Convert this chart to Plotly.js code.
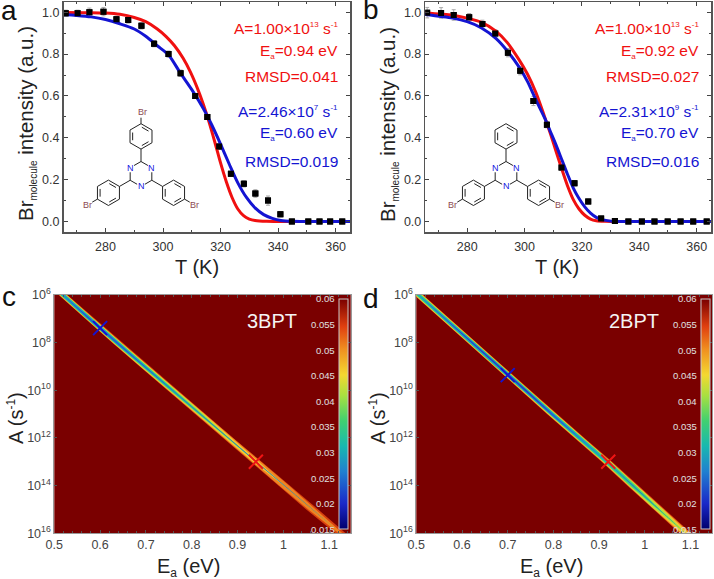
<!DOCTYPE html>
<html><head><meta charset="utf-8">
<script src="https://cdn.plot.ly/plotly-3.0.1.min.js"></script>
<style>html,body{margin:0;padding:0;background:#fff}</style>
</head><body><div id="chart" style="width:714px;height:579px"></div>
<script>
// ---------- panel a data ----------
const aT = [266.2,270.3,274.4,279.3,283.8,287.9,292.5,296.9,301.9,306.1,311.2,315.4,319.5,323.6,328.1,332.1,336.5,340.8,344.8,350.5,354.4,358.1,362.3];
const aI = [0.995,0.995,1.0,1.003,0.966,0.963,0.935,0.85,0.80,0.709,0.60,0.50,0.358,0.228,0.18,0.134,0.10,0.035,0,0,0,0,0];
const aErr = [0.015,0.015,0.02,0.02,0.015,0.015,0.015,0.015,0.015,0.015,0.012,0.012,0.012,0.01,0.015,0.018,0.022,0.012,0.003,0.003,0.003,0.003,0.003];
const aRedT = [265,275,280,285,290,294,298,301,304,307,309.5,312,314,316,318,320,322,324,326,328,330,332,336,345,365];
const aRedI = [0.999,0.998,0.996,0.99,0.975,0.955,0.92,0.885,0.84,0.78,0.715,0.635,0.56,0.475,0.38,0.28,0.19,0.115,0.06,0.028,0.012,0.005,0.001,0,0];
const aBlueT = [265,270,275,280,285,290,294,298,302,306,310,314,317,320,323,326,329,332,335,338,341,345,350,365];
const aBlueI = [0.99,0.985,0.978,0.965,0.945,0.92,0.885,0.84,0.795,0.71,0.63,0.54,0.46,0.37,0.275,0.185,0.115,0.065,0.033,0.015,0.005,0.001,0,0];
// ---------- panel b data ----------
const bT = [266.05,270.9,275.3,280.7,285.3,289.8,294.2,298.5,303.1,307.8,312.9,317.4,322.2,326.7,331.5,336.2,340.9,345.3,349.9,354.4,358.8,363.5];
const bI = [0.998,0.997,0.987,0.976,0.944,0.898,0.807,0.721,0.576,0.463,0.258,0.183,0.096,0.014,0.002,0,0,0,0,0,0,0];
const bErr = [0.025,0.025,0.025,0.018,0.018,0.018,0.02,0.02,0.022,0.015,0.012,0.012,0.01,0.01,0.004,0.003,0.003,0.003,0.003,0.003,0.003,0.003];
const bRedT = [265,275,280,285,290,294,298,301,304,307,309,311,313,315,317,319,321,323,325,328,332,365];
const bRedI = [0.997,0.986,0.972,0.952,0.91,0.855,0.775,0.705,0.615,0.50,0.42,0.335,0.25,0.17,0.105,0.06,0.03,0.012,0.004,0.001,0,0];
const bBlueT = [265,275,280,285,290,294,298,301,304,307,309,311,313,315,317,319,321,323,325,327,330,335,365];
const bBlueI = [0.99,0.972,0.955,0.925,0.875,0.815,0.74,0.67,0.58,0.495,0.43,0.365,0.295,0.225,0.16,0.11,0.07,0.04,0.02,0.009,0.002,0,0];
// ---------- RMSD valley, panels c and d ----------
const logAKnots = [6,7,8,9,10,11,12,13,14,15,16];
const cEa = [0.519,0.577,0.637,0.697,0.758,0.819,0.879,0.94,1.002,1.063,1.125];
const dEa = [0.505,0.563,0.622,0.680,0.739,0.797,0.857,0.917,0.974,1.031,1.089];
const levels = ['0.058','0.052','0.047','0.043','0.038','0.033','0.028','0.023','0.019'];
const levelColors = ['#d8400f','#ef8422','#f6c832','#b6e03e','#4ed272','#1fc0a4','#2098c8','#2064d0','#2440bc'];
const cHalfWidth = [
 [0.0095,0.01,0.0105,0.0105,0.011,0.011,0.0115,0.0125,0.013,0.013,0.011],
 [0.0085,0.009,0.0095,0.0095,0.01,0.01,0.0105,0.011,0.0105,0.0085,0.004],
 [0.0075,0.008,0.0085,0.0085,0.0088,0.0088,0.0085,0.0065,0.0005,0,0],
 [0.0068,0.0074,0.0076,0.0074,0.0074,0.007,0.004,0,0,0,0],
 [0.0057,0.0064,0.0064,0.0062,0.0058,0.004,0,0,0,0,0],
 [0.0047,0.0053,0.0053,0.0047,0.0033,0,0,0,0,0,0],
 [0.0036,0.0043,0.0041,0.0028,0,0,0,0,0,0,0],
 [0,0.0028,0.0028,0.0003,0,0,0,0,0,0,0],
 [0,0,0,0,0,0,0,0,0,0,0]];
const dHalfWidth = [
 [0.01,0.01,0.0105,0.0105,0.0105,0.0105,0.011,0.0115,0.012,0.0125,0.0125],
 [0.009,0.009,0.0093,0.0093,0.0093,0.0093,0.0097,0.01,0.0105,0.011,0.011],
 [0.008,0.008,0.0083,0.0083,0.0083,0.0083,0.0085,0.009,0.0093,0.0095,0.0075],
 [0.0072,0.0074,0.0076,0.0076,0.0076,0.0076,0.0076,0.008,0.008,0.008,0.001],
 [0.0059,0.0065,0.0067,0.0069,0.0069,0.0067,0.0065,0.0067,0.0067,0.002,0],
 [0.0043,0.0052,0.0057,0.0059,0.0059,0.0057,0.0052,0.0052,0.0025,0,0],
 [0.001,0.0038,0.0046,0.005,0.005,0.0046,0.0033,0.0015,0,0,0],
 [0,0.0002,0.003,0.004,0.004,0.003,0.0003,0,0,0,0],
 [0,0,0,0.0024,0.0024,0,0,0,0,0,0]];
const cBest = {ea:[0.60,0.94], a:[2.46e7,1e13]};
const dBest = {ea:[0.70,0.92], a:[2.31e9,1e13]};
const rmsdTicks = [0.015,0.02,0.025,0.03,0.035,0.04,0.045,0.05,0.055,0.06];
const rmsdTickText = ['0.015','0.02','0.025','0.03','0.035','0.04','0.045','0.05','0.055','0.06'];
const aTickVals = [1e6,1e8,1e10,1e12,1e14,1e16];
const aTickText = ['10<sup>6</sup>','10<sup>8</sup>','10<sup>10</sup>','10<sup>12</sup>','10<sup>14</sup>','10<sup>16</sup>'];

const W=714,H=579, FONT='"Liberation Sans", Arial, sans-serif';
const px=x=>x/W, py=y=>1-y/H;
const RED='#f01010', BLUE='#1414d2', TICK='#333';
const sm=(t,s)=>`<span style="font-size:${s}px">${t}</span>`;

const traces=[], annotations=[], shapes=[];
function ann(x,y,text,size,color,anchor,extra){
  annotations.push(Object.assign({xref:'paper',yref:'paper',x:px(x),y:py(y),text,showarrow:false,
    xanchor:anchor||'center',yanchor:'middle',borderpad:0,font:{family:FONT,size,color}},extra||{}));
}
function linePanel(ax,T,I,E,rT,rI,bT_,bI_){
  const base={xaxis:'x'+ax,yaxis:'y'+ax,hoverinfo:'skip',showlegend:false};
  traces.push(Object.assign({type:'scatter',mode:'markers',x:T,y:I,
    error_y:{type:'data',array:E,color:'#a8a8a8',thickness:1,width:2},
    marker:{symbol:'square',size:6,color:'#000'}},base));
  traces.push(Object.assign({type:'scatter',mode:'lines',x:rT,y:rI,line:{color:RED,width:3,shape:'spline',smoothing:0.8}},base));
  traces.push(Object.assign({type:'scatter',mode:'lines',x:bT_,y:bI_,line:{color:BLUE,width:3,shape:'spline',smoothing:0.8}},base));
  traces.push(Object.assign({type:'scatter',mode:'markers',x:T,y:I,marker:{symbol:'square',size:6,color:'#000'}},base));
}
linePanel('',aT,aI,aErr,aRedT,aRedI,aBlueT,aBlueI);
linePanel('2',bT,bI,bErr,bRedT,bRedI,bBlueT,bBlueI);

const jet=[[0,'#00006e'],[0.11,'#1a28c8'],[0.25,'#2080d0'],[0.36,'#18b8b0'],[0.47,'#40d070'],[0.58,'#a8e040'],[0.67,'#f4d830'],[0.78,'#f09020'],[0.88,'#e04010'],[1,'#7a0000']];
function mapPanel(ax,ea,hw,best,barX,barW){
  const xa='x'+ax,ya='y'+ax;
  traces.push({type:'heatmap',xaxis:xa,yaxis:ya,x:[0.4,1.3],y:[1e5,1e17],z:[[0.06,0.06],[0.06,0.06]],
    zmin:0.015,zmax:0.06,colorscale:jet,hoverinfo:'skip',
    colorbar:{x:px(barX),xanchor:'left',xpad:0,ypad:0,y:py(529.3),yanchor:'bottom',lenmode:'pixels',len:230.3,
      thicknessmode:'pixels',thickness:barW,outlinecolor:'#c8c8c8',outlinewidth:1,borderwidth:0,
      showticklabels:false,ticks:'',tickvals:rmsdTicks}});
  levels.forEach((lv,i)=>{
    const up=ea.map((e,k)=>e-hw[i][k]), dn=ea.map((e,k)=>e+hw[i][k]);
    const ys=logAKnots.map(n=>Math.pow(10,n));
    traces.push({type:'scatter',mode:'lines',xaxis:xa,yaxis:ya,name:lv,showlegend:false,hoverinfo:'skip',
      x:up.concat(dn.slice().reverse()),y:ys.concat(ys.slice().reverse()),
      fill:'toself',fillcolor:levelColors[i],line:{width:0,color:levelColors[i]}});
  });
  [BLUE,'#f01414'].forEach((c,i)=>traces.push({type:'scatter',mode:'markers',xaxis:xa,yaxis:ya,showlegend:false,hoverinfo:'skip',
    x:[best.ea[i]],y:[best.a[i]],marker:{symbol:'x-thin',size:14,line:{color:c,width:2},color:c}}));
  rmsdTicks.forEach((v,i)=>ann(barX-3,529.3-(v-0.015)/0.045*230.3,rmsdTickText[i],9.5,'#e0e0e0','right'));
}
mapPanel('3',cEa,cHalfWidth,cBest,339.3,8.5);
mapPanel('4',dEa,dHalfWidth,dBest,701,8.5);

const lineAxisX=(l,r)=>({domain:[px(l),px(r)],range:[265.4,365],tickvals:[280,300,320,340,360],ticks:'inside',ticklen:4,
  tickcolor:'#444',tickwidth:1,mirror:'allticks',showline:true,linecolor:'#555',linewidth:1.5,showgrid:false,zeroline:false,
  minor:{ticks:'inside',ticklen:2,dtick:10,tick0:0,tickcolor:'#444',showgrid:false},
  tickfont:{family:FONT,size:12.5,color:TICK},ticklabelstandoff:2});
const lineAxisY=()=>({domain:[py(232),py(2)],range:[-0.05,1.049],tickvals:[0,0.2,0.4,0.6,0.8,1],ticktext:['0.0','0.2','0.4','0.6','0.8','1.0'],
  ticks:'inside',ticklen:4,tickcolor:'#444',tickwidth:1,mirror:'allticks',showline:true,linecolor:'#555',linewidth:1.5,showgrid:false,zeroline:false,
  minor:{ticks:'inside',ticklen:2,dtick:0.1,tick0:0,tickcolor:'#444',showgrid:false},
  tickfont:{family:FONT,size:12.5,color:TICK}});
const mapAxisX=(l,r)=>({domain:[px(l),px(r)],range:[0.5,1.147],tickvals:[0.5,0.6,0.7,0.8,0.9,1,1.1],ticktext:['0.5','0.6','0.7','0.8','0.9','1','1.1'],
  ticks:'inside',ticklen:3,tickcolor:'#555',mirror:'allticks',showline:true,linecolor:'#999',linewidth:1,showgrid:false,zeroline:false,
  minor:{ticks:'inside',ticklen:2,dtick:0.02,tick0:0.5,tickcolor:'#555',showgrid:false},
  tickfont:{family:FONT,size:12.5,color:'#444'}});
const mapAxisY=()=>({domain:[py(533.3),py(295)],type:'log',range:[16,6],tickvals:aTickVals,ticktext:aTickText,
  ticks:'inside',ticklen:3,tickcolor:'#555',mirror:'allticks',showline:true,linecolor:'#999',linewidth:1,showgrid:false,zeroline:false,
  tickfont:{family:FONT,size:12.5,color:'#444'}});

// axis titles, placed where the reference has them (not centred on the plot areas)
const rot={textangle:-90};
const brTitle='Br<sub>'+sm('molecule',10)+'</sub> intensity (a.u.)';
const eaTitle='E<sub>'+sm('a',12)+'</sub> (eV)';
const aTitle='A (s<sup>'+sm('-1',12)+'</sup>)';
ann(197,267,'T (K)',20,'#222'); ann(557,267,'T (K)',20,'#222');
ann(27,124,brTitle,20.5,'#222','center',rot); ann(389,124,brTitle,20.5,'#222','center',rot);
ann(188,567,eaTitle,20,'#222'); ann(551,567,eaTitle,20,'#222');
ann(15,418,aTitle,20,'#222','center',rot); ann(377,418,aTitle,20,'#222','center',rot);

function fitLabels(right,rows){
  rows.forEach(r=>ann(right,r[0],r[1],15.5,r[2],'right',{align:'right'}));
}
const ttxt=(e,r,c1,c2,b1,b2)=>[
 [28,`A=1.00×10<sup>${sm('13',8)}</sup> s<sup>${sm('-1',8)}</sup>`,RED],[52,`E<sub>${sm('a',8)}</sub>=${e} eV`,RED],[77,`RMSD=${r}`,RED],
 [112,`A=${c1}×10<sup>${sm(c2,8)}</sup> s<sup>${sm('-1',8)}</sup>`,BLUE],[133,`E<sub>${sm('a',8)}</sub>=${b1} eV`,BLUE],[161,`RMSD=${b2}`,BLUE]];
fitLabels(339,ttxt('0.94','0.041','2.46','7','0.60','0.019'));
fitLabels(700,ttxt('0.92','0.027','2.31','9','0.70','0.016'));
ann(9,10,'a',28,'#111'); ann(371,9,'b',28,'#111'); ann(9,296,'c',28,'#111'); ann(371,298,'d',28,'#111');
ann(272,321,'3BPT',20,'#f4f4f4'); ann(634,321,'2BPT',20,'#f4f4f4');

// triazine molecule sketches (decoration, placed in page pixels)
function seg(x0,y0,x1,y1){shapes.push({type:'line',xref:'paper',yref:'paper',x0:px(x0),y0:py(y0),x1:px(x1),y1:py(y1),line:{color:'#222',width:1}});}
function ring(cx,cy,R,rot,dbl){
  const v=i=>{const t=rot+i*Math.PI/3;return [cx+R*Math.cos(t),cy+R*Math.sin(t)];};
  for(let i=0;i<6;i++){const a=v(i),b=v(i+1);seg(a[0],a[1],b[0],b[1]);}
  dbl.forEach(i=>{const a=v(i),b=v(i+1),k=0.76;
    const ax=cx+(a[0]-cx)*k,ay=cy+(a[1]-cy)*k,bx=cx+(b[0]-cx)*k,by=cy+(b[1]-cy)*k;
    const s=0.8;seg(ax+(bx-ax)*(1-s)/2,ay+(by-ay)*(1-s)/2,bx-(bx-ax)*(1-s)/2,by-(by-ay)*(1-s)/2);});
}
function molecule(cx,cy,topBr){
  const up=-Math.PI/2,R=12.5,r=12.7,D=37.6;
  const tv=i=>[cx+R*Math.cos(up+i*Math.PI/3),cy+R*Math.sin(up+i*Math.PI/3)];
  for(let i=0;i<6;i++){const a=tv(i),b=tv(i+1),isN=i%2===1,nextN=(i+1)%2===1;
    const f=0.36,s=isN?f:0,e=nextN?1-f:1;
    seg(a[0]+(b[0]-a[0])*s,a[1]+(b[1]-a[1])*s,a[0]+(b[0]-a[0])*e,a[1]+(b[1]-a[1])*e);}
  [1,3,5].forEach(i=>{const p=tv(i);ann(p[0],p[1],'N',9,'#1414e0');});
  [0,2,4].forEach(i=>{
    const t=up+i*Math.PI/3,c=Math.cos(t),s=Math.sin(t);
    seg(cx+R*c,cy+R*s,cx+(D-r)*c,cy+(D-r)*s);
    ring(cx+D*c,cy+D*s,r,t,[0,2,4]);
    if(i!==0||topBr){
      seg(cx+(D+r)*c,cy+(D+r)*s,cx+(D+r+6)*c,cy+(D+r+6)*s);
      ann(cx+(D+r+12)*c-(i===0?-1:0),cy+(D+r+12)*s,'Br',9,'#8c4a52');
    }
  });
}
molecule(141,174,true);
molecule(506,174,false);

const layout={width:W,height:H,autosize:false,paper_bgcolor:'#fff',plot_bgcolor:'#fff',showlegend:false,
  margin:{l:0,r:0,t:0,b:0,autoexpand:false},font:{family:FONT},annotations,shapes,
  xaxis:Object.assign(lineAxisX(63.5,350),{anchor:'y'}),yaxis:Object.assign(lineAxisY(),{anchor:'x'}),
  xaxis2:Object.assign(lineAxisX(425.3,711),{anchor:'y2'}),yaxis2:Object.assign(lineAxisY(),{anchor:'x2'}),
  xaxis3:Object.assign(mapAxisX(54.3,350.7),{anchor:'y3'}),yaxis3:Object.assign(mapAxisY(),{anchor:'x3'}),
  xaxis4:Object.assign(mapAxisX(416.3,712),{anchor:'y4'}),yaxis4:Object.assign(mapAxisY(),{anchor:'x4'})};
Plotly.newPlot('chart',traces,layout,{displayModeBar:false,staticPlot:true});
</script></body></html>
